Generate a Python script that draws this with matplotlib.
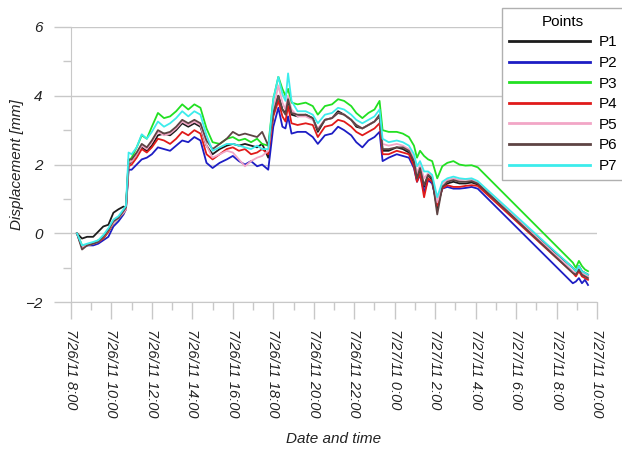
import matplotlib
matplotlib.use("Agg")
import matplotlib.pyplot as plt
import matplotlib.dates as mdates
from matplotlib.ticker import FuncFormatter, MultipleLocator
import pandas as pd

plt.rcParams['font.family'] = ['Liberation Sans', 'DejaVu Sans']

# hours since 7/26/11 0:00
hours = [8.30, 8.55, 8.80, 9.10, 9.35, 9.60, 9.85, 10.10, 10.35, 10.60,
         10.72, 10.85, 11.00, 11.25, 11.50, 11.75, 12.00, 12.30, 12.60, 12.90,
         13.20, 13.50, 13.80, 14.10, 14.40, 14.70, 15.00, 15.35, 15.70, 16.00,
         16.30, 16.60, 16.90, 17.20, 17.45, 17.75, 18.00, 18.25, 18.45, 18.60,
         18.73, 18.90, 19.20, 19.60, 19.95, 20.20, 20.55, 20.90, 21.20, 21.50,
         21.85, 22.10, 22.40, 22.70, 23.00, 23.25, 23.40, 23.70, 24.10, 24.40,
         24.70, 24.95, 25.10, 25.25, 25.45, 25.65, 25.85, 26.10, 26.35, 26.60,
         26.90, 27.20, 27.50, 27.80, 28.10, 32.80, 32.95, 33.10, 33.25, 33.40,
         33.55]

p1 = [0.0, -0.15, -0.1, -0.1, 0.05, 0.2, 0.25, 0.6, 0.7, 0.78,
      0.75, 2.0, 2.1, 2.3, 2.5, 2.4, 2.55, 2.85, 2.9, 2.85,
      3.0, 3.2, 3.1, 3.2, 3.1, 2.55, 2.3, 2.45, 2.55, 2.6,
      2.55, 2.6, 2.55, 2.5, 2.6, 2.2, 3.5, 4.0, 3.6, 3.5,
      3.85, 3.45, 3.4, 3.45, 3.35, 2.95, 3.3, 3.35, 3.55, 3.45,
      3.3, 3.1, 3.05, 3.15, 3.25, 3.4, 2.4, 2.4, 2.5, 2.45,
      2.35, 2.05, 1.55, 1.85, 1.35, 1.7, 1.55, 0.7, 1.35, 1.45,
      1.5, 1.45, 1.45, 1.48, 1.42, -1.0, -1.1, -0.95, -1.1, -1.15,
      -1.2]
p2 = [0.0, -0.4, -0.35, -0.35, -0.3, -0.2, -0.1, 0.2, 0.35, 0.55,
      0.7, 1.85, 1.85, 2.0, 2.15, 2.2, 2.3, 2.5, 2.45, 2.4,
      2.55, 2.7, 2.65, 2.8, 2.7, 2.05, 1.9, 2.05, 2.15, 2.25,
      2.1, 2.0, 2.1, 1.95, 2.0, 1.85, 3.1, 3.65, 3.1, 3.05,
      3.4, 2.9, 2.95, 2.95, 2.8, 2.6, 2.85, 2.9, 3.1, 3.0,
      2.85, 2.65, 2.5, 2.7, 2.8, 2.95, 2.1, 2.2, 2.3, 2.25,
      2.2, 1.9, 1.5, 1.7, 1.2, 1.55, 1.45, 0.85, 1.3, 1.35,
      1.3, 1.3, 1.32, 1.35, 1.3, -1.45, -1.4, -1.3, -1.45, -1.35,
      -1.5]
p3 = [0.0, -0.35, -0.35, -0.3, -0.2, -0.15, 0.05, 0.3, 0.45, 0.6,
      0.75, 2.1, 2.2, 2.5, 2.85, 2.75, 3.1, 3.5, 3.35, 3.4,
      3.55, 3.75, 3.6, 3.75, 3.65, 3.05, 2.65, 2.6, 2.75, 2.8,
      2.7, 2.75, 2.65, 2.75, 2.6, 2.55, 3.9, 4.55, 4.2, 4.0,
      4.2, 3.8, 3.75, 3.8, 3.7, 3.45, 3.7, 3.75, 3.9, 3.85,
      3.7, 3.5, 3.35, 3.5, 3.6, 3.85, 3.0, 2.95, 2.95, 2.9,
      2.8, 2.55, 2.2, 2.4, 2.25, 2.15, 2.1, 1.6, 1.95, 2.05,
      2.1, 2.0, 1.97, 1.98, 1.92, -0.85, -1.0, -0.8, -0.95, -1.05,
      -1.1]
p4 = [0.0, -0.4, -0.35, -0.3, -0.25, -0.15, 0.05, 0.3, 0.45, 0.6,
      0.7, 1.95, 2.0, 2.2, 2.45, 2.35, 2.5, 2.75, 2.7, 2.6,
      2.75, 2.95, 2.85, 3.0, 2.9, 2.3, 2.15, 2.3, 2.45, 2.5,
      2.4, 2.45, 2.3, 2.35, 2.45, 2.3, 3.4, 3.85, 3.4, 3.25,
      3.7, 3.2, 3.15, 3.2, 3.15, 2.8, 3.1, 3.15, 3.3, 3.25,
      3.1, 2.95, 2.85, 2.95, 3.05, 3.2, 2.3, 2.3, 2.4, 2.35,
      2.3, 1.95, 1.5, 1.75, 1.05, 1.6, 1.5, 0.8, 1.3, 1.4,
      1.35, 1.35, 1.38, 1.4, 1.38, -1.15, -1.25, -1.1, -1.25, -1.3,
      -1.35]
p5 = [0.0, -0.4, -0.35, -0.3, -0.25, -0.1, 0.1, 0.3, 0.45, 0.6,
      0.7, 2.05, 2.1, 2.3, 2.55, 2.45, 2.65, 2.95, 2.85, 2.9,
      3.05, 3.25, 3.15, 3.25, 3.15, 2.55, 2.2, 2.3, 2.4, 2.35,
      2.15, 1.95, 2.1, 2.2, 2.25, 2.4, 3.6, 4.3, 3.8, 3.6,
      4.0, 3.6, 3.4, 3.4, 3.3, 3.05, 3.3, 3.35, 3.5, 3.45,
      3.3, 3.15, 3.05, 3.15, 3.25, 3.45, 2.6, 2.55, 2.6, 2.55,
      2.45, 2.2, 1.75, 2.0, 1.6, 1.75, 1.65, 0.9, 1.45, 1.55,
      1.6, 1.55, 1.57, 1.57, 1.5, -1.1, -1.15, -1.0, -1.15, -1.2,
      -1.25]
p6 = [0.0, -0.47, -0.35, -0.3, -0.25, -0.1, 0.1, 0.35, 0.45, 0.65,
      0.75, 2.15, 2.15, 2.35, 2.6, 2.5, 2.7, 3.0, 2.9, 2.95,
      3.1, 3.3, 3.2, 3.3, 3.2, 2.7, 2.45, 2.6, 2.75, 2.95,
      2.85, 2.9, 2.85, 2.8, 2.95, 2.55, 3.5, 4.0, 3.6, 3.45,
      3.9, 3.5, 3.45, 3.45, 3.35, 3.0, 3.3, 3.35, 3.5, 3.45,
      3.3, 3.15, 3.05, 3.15, 3.25, 3.45, 2.45, 2.45, 2.5, 2.5,
      2.4, 2.1, 1.6, 1.9, 1.4, 1.7, 1.6, 0.55, 1.35, 1.5,
      1.55, 1.5, 1.5, 1.52, 1.45, -1.15, -1.2, -1.05, -1.2, -1.25,
      -1.3]
p7 = [0.0, -0.35, -0.3, -0.25, -0.2, -0.05, 0.15, 0.4, 0.5, 0.7,
      0.8, 2.35, 2.3, 2.5, 2.88, 2.75, 2.95, 3.25, 3.1, 3.2,
      3.35, 3.55, 3.4, 3.55, 3.45, 2.85, 2.4, 2.5, 2.6, 2.6,
      2.55, 2.5, 2.45, 2.55, 2.45, 2.45, 3.9, 4.55, 4.05, 3.85,
      4.65, 3.85, 3.55, 3.55, 3.45, 3.2, 3.45, 3.5, 3.65, 3.6,
      3.45, 3.3, 3.2, 3.3, 3.4, 3.6, 2.75, 2.65, 2.7, 2.65,
      2.55, 2.3, 1.95, 2.1, 1.8, 1.8, 1.7, 1.05, 1.5, 1.6,
      1.65, 1.6, 1.58, 1.6, 1.52, -1.0, -1.1, -0.95, -1.1, -1.15,
      -1.2]

names = ['P1', 'P2', 'P3', 'P4', 'P5', 'P6', 'P7']
series = [p1, p2, p3, p4, p5, p6, p7]
colors = ['#1c1c1c', '#1d1dc4', '#22e022', '#e01a1a', '#f2a6c6', '#5e4444', '#3cecec']

t0 = pd.Timestamp('2011-07-26 00:00')
times = t0 + pd.to_timedelta(hours, unit='h')

fig = plt.figure(figsize=(6.22, 4.49), dpi=100)
ax = fig.add_axes([0.114, 0.327, 0.846, 0.613])

for name, vals, c in zip(names, series, colors):
    ax.plot(times, vals, color=c, lw=1.3, label=name)

gc = '#c8c8c8'
ax.set_ylim(-2, 6)
ax.set_xlim(pd.Timestamp('2011-07-26 08:00'), pd.Timestamp('2011-07-27 10:00'))
ax.yaxis.set_major_locator(MultipleLocator(2))
ax.yaxis.set_minor_locator(MultipleLocator(1))
ax.xaxis.set_major_locator(mdates.HourLocator(byhour=range(0, 24, 2)))
ax.xaxis.set_minor_locator(mdates.HourLocator())

def fmt(x, pos):
    d = mdates.num2date(x)
    return f"{d.month}/{d.day}/{d.year % 100:02d} {d.hour}:{d.minute:02d}"

ax.xaxis.set_major_formatter(FuncFormatter(fmt))
ax.grid(axis='y', color=gc, lw=1)
for s in ['top', 'right']:
    ax.spines[s].set_visible(False)
for s in ['left', 'bottom']:
    ax.spines[s].set_color(gc)
ax.tick_params(which='major', length=12.5, color=gc, width=1)
ax.tick_params(which='minor', length=6, color=gc, width=1)
ax.tick_params(axis='x', which='major', pad=7, labelsize=10.5, labelcolor='#222222')
ax.tick_params(axis='y', which='major', pad=8, labelsize=11, labelcolor='#222222')
for lab in ax.get_xticklabels():
    lab.set_rotation(-90)
    lab.set_style('italic')
    lab.set_va('top')
    lab.set_ha('center')
for lab in ax.get_yticklabels():
    lab.set_style('italic')

ax.set_ylabel('Displacement [mm]', fontsize=11, style='italic', labelpad=1, color='#222222')
ax.set_xlabel('Date and time', fontsize=11, style='italic', labelpad=10, color='#222222')

leg = fig.legend(loc='upper left', bbox_to_anchor=(502 / 622, 1 - 8 / 449),
                 borderaxespad=0, title='Points', fontsize=11, title_fontsize=11,
                 handlelength=5.3, handletextpad=0.6, labelspacing=0.43, borderpad=0.45,
                 fancybox=False, framealpha=1)
leg.get_frame().set_edgecolor('#b0b0b0')
for ln in leg.get_lines():
    ln.set_linewidth(2)

fig.savefig('out.png', dpi=100)
